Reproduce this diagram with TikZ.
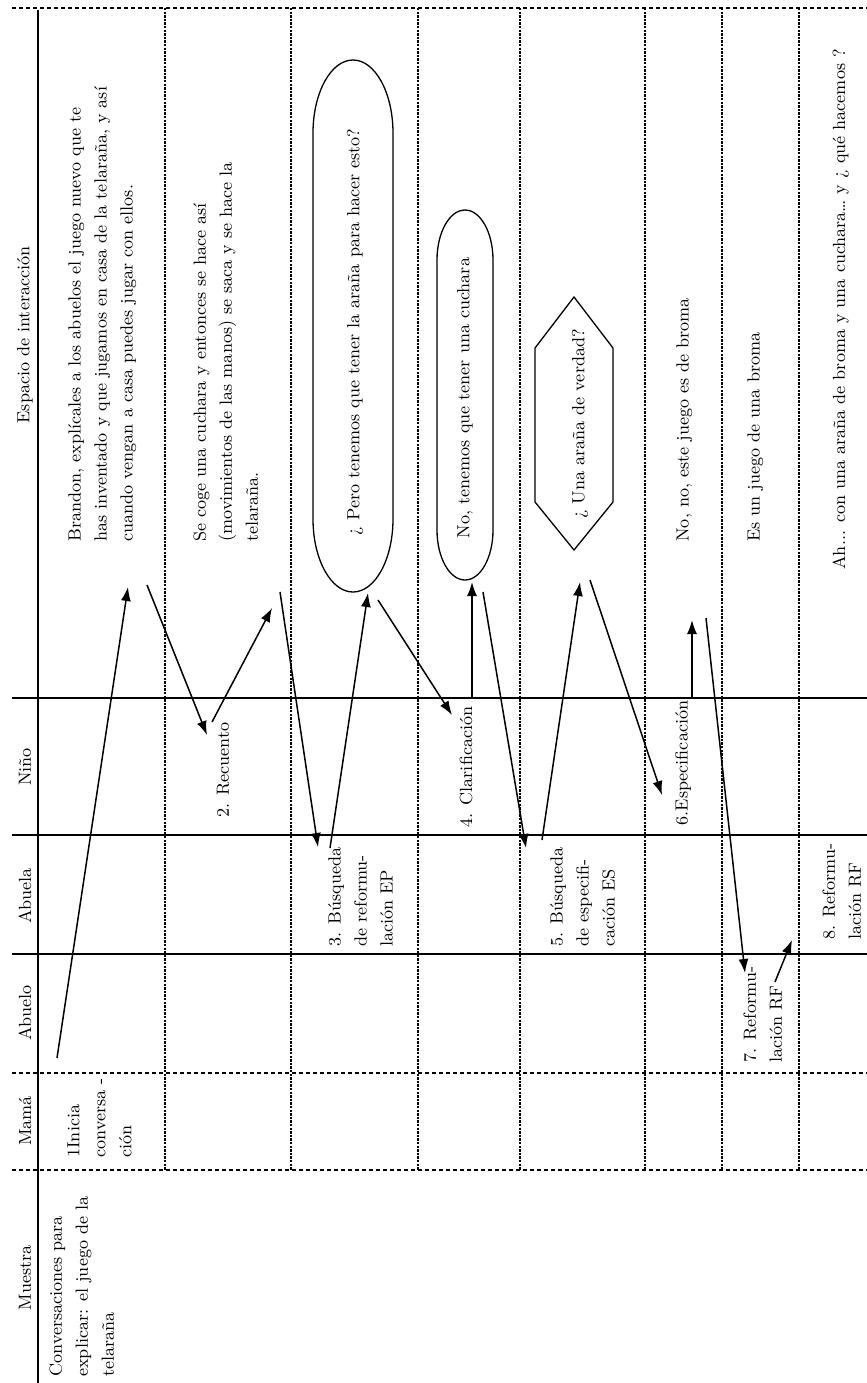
\documentclass[tikz,border=0pt]{standalone}
\usepackage{tikz}
\usetikzlibrary{arrows.meta}
\tikzstyle{celltext}=[rotate=90,anchor=north west,inner sep=0pt,align=left,
font=\fontsize{8.8}{13}\selectfont]
\tikzstyle{midtext}=[rotate=90,inner sep=0pt,font=\fontsize{8.8}{13}\selectfont]
\tikzstyle{heavy}=[line width=0.9pt]
\tikzstyle{rowsep}=[line width=0.65pt,dash pattern=on 1.2pt off 0.6pt]
\tikzstyle{colsep}=[line width=0.65pt,dash pattern=on 2pt off 1.5pt]
\tikzstyle{bubble}=[line width=0.65pt]
\tikzstyle{turn}=[-{Latex[length=7pt,width=5pt]},line width=0.75pt]

\begin{document}
\begin{tikzpicture}[x=0.5pt,y=0.5pt]
        \useasboundingbox (0,0) rectangle (867,-1383);
        \draw[colsep] (12,-8) to (867,-8);
        \draw[colsep] (12,-1073) to (867,-1073);
        \draw[colsep] (12,-1170) to (867,-1170);
        \draw[heavy] (12,-698) to (867,-698);
        \draw[heavy] (12,-835) to (867,-835);
        \draw[heavy] (12,-954) to (867,-954);
        \draw[heavy] (38,-10) to (38,-1383);
        \draw[rowsep] (165,-8) to (165,-1170);
        \draw[rowsep] (291,-8) to (291,-1170);
        \draw[rowsep] (418,-8) to (418,-1170);
        \draw[rowsep] (520,-8) to (520,-1170);
        \draw[rowsep] (645,-8) to (645,-1170);
        \draw[rowsep] (722,-8) to (722,-1170);
        \draw[rowsep] (799,-8) to (799,-1170);
        \node [style=midtext] (hesp) at (25,-335) {Espacio de interacción};
        \node [style=midtext] (hnino) at (25,-767) {Niño};
        \node [style=midtext] (habuela) at (25,-896) {Abuela};
        \node [style=midtext] (habuelo) at (25,-1013) {Abuelo};
        \node [style=midtext] (hmama) at (25,-1121) {Mamá};
        \node [style=midtext] (hmuestra) at (25,-1278) {Muestra};
        \node [style=celltext] (muestra) at (49,-1377) {Conversaciones para\\explicar: el juego de la\\telaraña};
        \node [style=celltext] (inicia) at (67,-1158) {1Inicia\\conversa -\\ción};
        \node [style=celltext] (e1) at (68,-542) {Brandon, explícales a los abuelos el juego nuevo que te\\has inventado y que jugamos en casa de la telaraña, y así\\cuando vengan a casa puedes jugar con ellos.};
        \node [style=celltext] (e2) at (193,-542) {Se coge una cuchara y entonces se hace así\\(movimientos de las manos) se saca y se hace la\\telaraña.};
        \draw[bubble] (313,-133) -- (313,-519) arc[start angle=180,end angle=360,x radius=40,y radius=73]
            -- (393,-133) arc[start angle=0,end angle=180,x radius=40,y radius=73] -- cycle;
        \node [style=midtext] (e3) at (355,-332) {¿ Pero tenemos que tener la araña para hacer esto?};
        \draw[bubble] (437,-260) -- (437,-530) arc[start angle=180,end angle=360,x radius=28,y radius=50]
            -- (493,-260) arc[start angle=0,end angle=180,x radius=28,y radius=50] -- cycle;
        \node [style=midtext] (e4) at (465,-398) {No, tenemos que tener una cuchara};
        \draw[bubble] (574,-297) -- (613,-348) -- (613,-502) -- (574,-550) -- (535,-502) -- (535,-348) -- cycle;
        \node [style=midtext] (e5) at (580,-424) {¿ Una araña de verdad?};
        \node [style=celltext] (e6) at (676,-542) {No, no, este juego es de broma};
        \node [style=celltext] (e7) at (747,-542) {Es un juego de una broma};
        \node [style=celltext] (e8) at (832,-570) {Ah... con una araña de broma y una cuchara\ldots{} y ¿ qué hacemos ?};
        \node [style=midtext] (n2) at (223,-770) {2. Recuento};
        \node [style=midtext] (n4) at (466,-767) {4. Clarificación};
        \node [style=midtext] (n6) at (683,-763) {6.Especificación};
        \node [style=celltext] (a3) at (328,-947) {3. Búsqueda\\de reformu-\\lación EP};
        \node [style=celltext] (a5) at (550,-947) {5. Búsqueda\\de especifi-\\cación ES};
        \node [style=celltext] (a8) at (822,-940) {8. Reformu-\\lación RF};
        \node [style=celltext] (b7) at (743,-1063) {7. Reformu-\\lación RF};
        \coordinate (s1) at (57,-1058);
        \coordinate (t1) at (128,-587);
        \coordinate (s2) at (147,-585);
        \coordinate (t2) at (207,-735);
        \coordinate (s3) at (212,-722);
        \coordinate (t3) at (272,-608);
        \coordinate (s4) at (280,-592);
        \coordinate (t4) at (318,-847);
        \coordinate (s5) at (330,-848);
        \coordinate (t5) at (368,-593);
        \coordinate (s6) at (378,-600);
        \coordinate (t6) at (452,-715);
        \coordinate (s7) at (472,-698);
        \coordinate (t7) at (472,-582);
        \coordinate (s8) at (483,-592);
        \coordinate (t8) at (526,-848);
        \coordinate (s9) at (542,-840);
        \coordinate (t9) at (580,-582);
        \coordinate (s10) at (590,-580);
        \coordinate (t10) at (662,-795);
        \coordinate (s11) at (692,-698);
        \coordinate (t11) at (692,-620);
        \coordinate (s12) at (706,-618);
        \coordinate (t12) at (745,-973);
        \coordinate (s13) at (775,-982);
        \coordinate (t13) at (792,-940);
        \draw[turn] (s1) to (t1);
        \draw[turn] (s2) to (t2);
        \draw[turn] (s3) to (t3);
        \draw[turn] (s4) to (t4);
        \draw[turn] (s5) to (t5);
        \draw[turn] (s6) to (t6);
        \draw[turn] (s7) to (t7);
        \draw[turn] (s8) to (t8);
        \draw[turn] (s9) to (t9);
        \draw[turn] (s10) to (t10);
        \draw[turn] (s11) to (t11);
        \draw[turn] (s12) to (t12);
        \draw[turn] (s13) to (t13);
    \end{tikzpicture}
\end{document}
